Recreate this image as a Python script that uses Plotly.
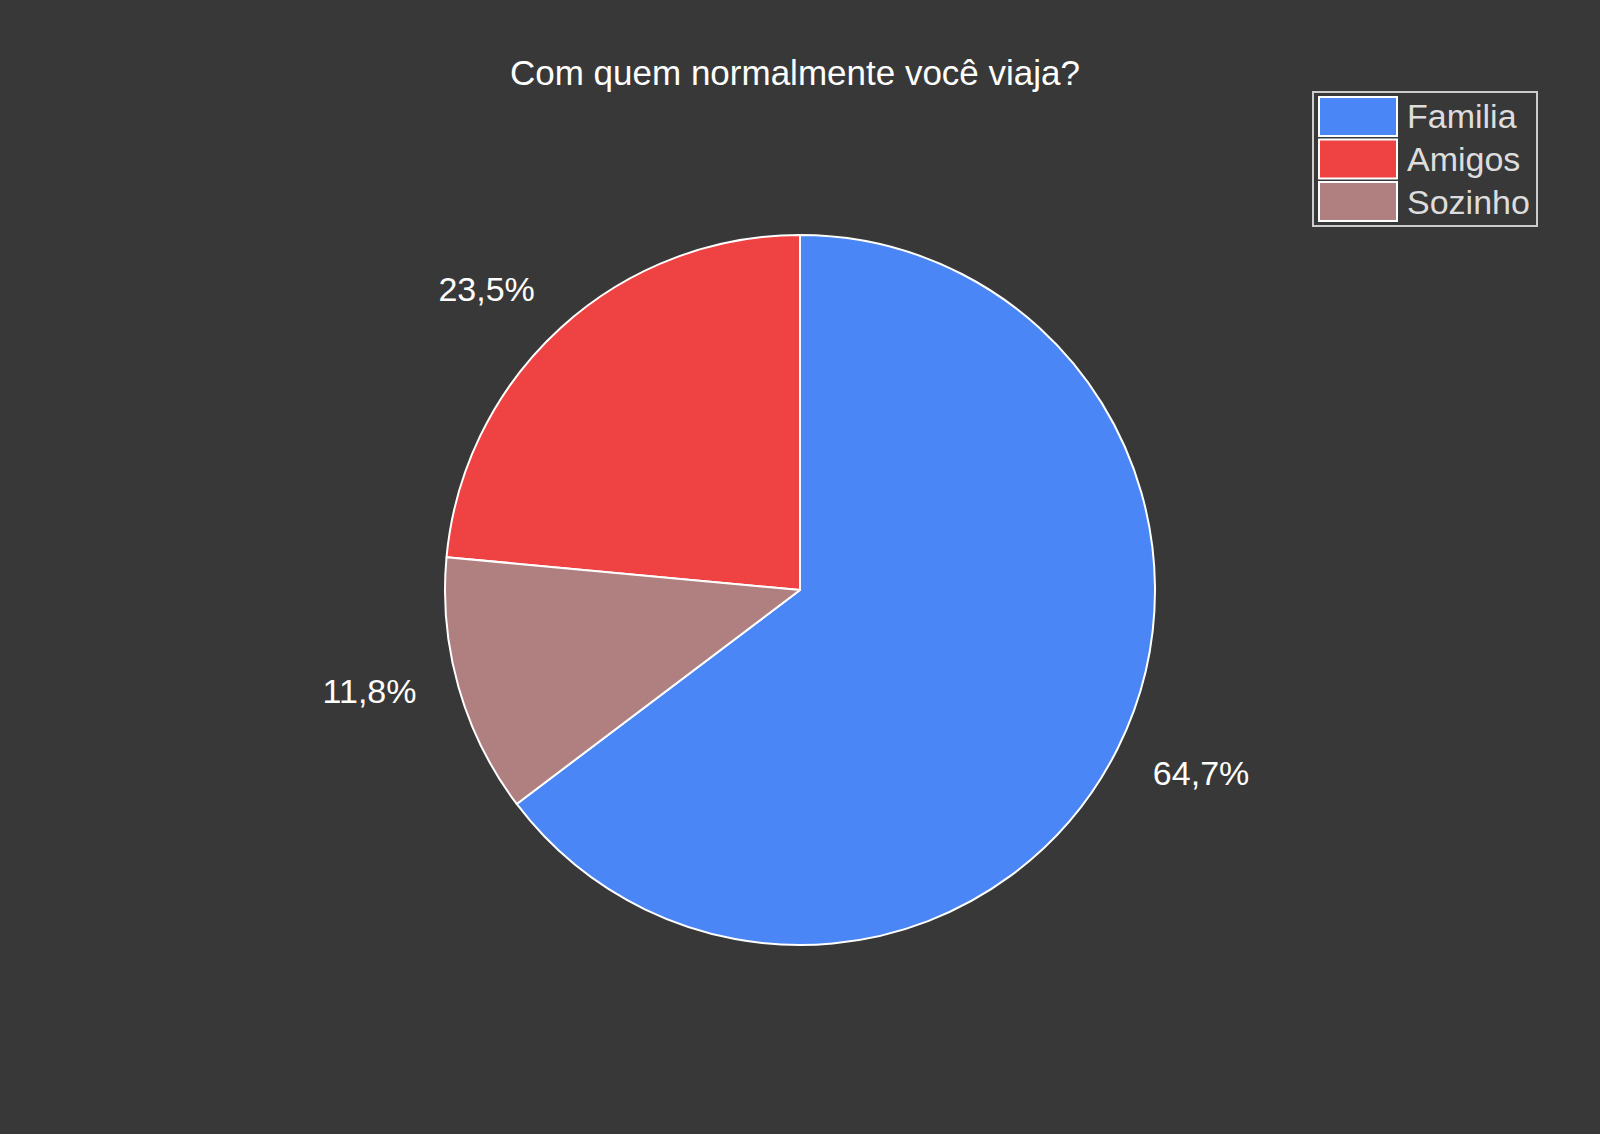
import plotly.graph_objects as go

# ---- data ----
title_text = "Com quem normalmente você viaja?"
labels = ["Familia", "Amigos", "Sozinho"]
values = [11, 4, 2]
colors = ["#4A86F5", "#EF4242", "#B08080"]

BG = "#383838"
W, H = 1600, 1134
FONT = "Arial, Liberation Sans, Arimo, sans-serif"

# pie geometry (pixels)
cx, cy, R = 800, 590, 355
R_lab = 387       # radius of the invisible label pie
lab_rot = 1       # small angular nudge of the label ring

def dom(r):
    return dict(x=[(cx - r) / W, (cx + r) / W],
                y=[(H - cy - r) / H, (H - cy + r) / H])

fig = go.Figure()

# visible pie
fig.add_trace(go.Pie(
    labels=labels, values=values, sort=False,
    direction="counterclockwise", rotation=0,
    marker=dict(colors=colors, line=dict(color="white", width=2)),
    textinfo="none", domain=dom(R), showlegend=False,
    hovertemplate="%{label}: %{value} (%{percent})<extra></extra>",
))

# invisible pie carrying the outside percentage labels
fig.add_trace(go.Pie(
    labels=labels, values=values, sort=False,
    direction="counterclockwise", rotation=lab_rot,
    marker=dict(colors=["rgba(0,0,0,0)"] * len(labels), line=dict(width=0)),
    texttemplate="%{percent:.1%}", textposition="outside",
    outsidetextfont=dict(color="white", size=34, family=FONT),
    domain=dom(R_lab), showlegend=False, hoverinfo="skip",
))

# custom legend (large rectangular swatches)
lx0, ly0 = 1313, 92
sw_w, sw_h, step = 78, 39, 42.5
fig.add_shape(type="rect", xref="paper", yref="paper",
              x0=lx0 / W, x1=1537 / W, y0=1 - 226 / H, y1=1 - ly0 / H,
              line=dict(color="#CCCCCC", width=2), fillcolor=BG, layer="above")
for i, (lab, col) in enumerate(zip(labels, colors)):
    top = ly0 + 5 + i * step
    fig.add_shape(type="rect", xref="paper", yref="paper",
                  x0=(lx0 + 6) / W, x1=(lx0 + 6 + sw_w) / W,
                  y0=1 - (top + sw_h) / H, y1=1 - top / H,
                  fillcolor=col, line=dict(color="white", width=2), layer="above")
    fig.add_annotation(x=(lx0 + 92) / W, y=1 - (top + sw_h / 2) / H,
                       xref="paper", yref="paper", xanchor="left", yanchor="middle",
                       text=lab, showarrow=False,
                       font=dict(size=34, color="#DDDDDD", family=FONT))

fig.update_layout(
    width=W, height=H,
    paper_bgcolor=BG, plot_bgcolor=BG,
    margin=dict(l=0, r=0, t=0, b=0),
    separators=",.",
    title=dict(text=title_text, x=795 / W, xanchor="center",
               y=1 - 73 / H, yanchor="middle",
               font=dict(size=35, color="white", family=FONT)),
    font=dict(family=FONT, color="white"),
)

fig.write_html("out.html")
